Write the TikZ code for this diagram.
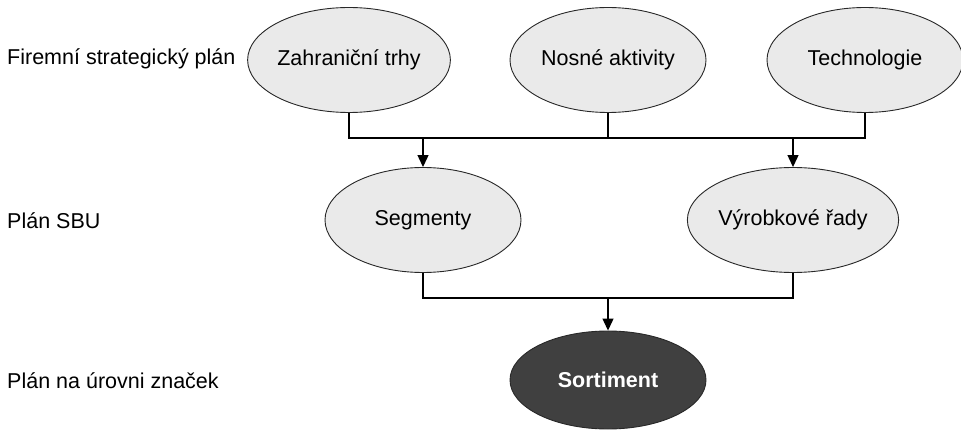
\documentclass[tikz,border=0pt]{standalone}
\usepackage{fontspec}
\setmainfont{Liberation Sans}
\usetikzlibrary{shapes.geometric,arrows.meta}
\definecolor{ellfill}{RGB}{234,234,234}
\definecolor{darkfill}{RGB}{64,64,64}
\definecolor{edge}{RGB}{40,40,40}
\begin{document}
\begin{tikzpicture}[x=1pt,y=-1pt,
  ell/.style={ellipse,draw=edge,line width=0.9pt,fill=ellfill,minimum width=196pt,minimum height=105pt,inner sep=0pt,font=\fontsize{21.5}{26}\selectfont},
  darkell/.style={ell,fill=darkfill,text=white,font=\fontsize{21.5}{26}\selectfont\bfseries,minimum height=98pt},
  lbl/.style={anchor=west,inner sep=0pt,font=\fontsize{21.5}{26}\selectfont},
  conn/.style={draw=black,line width=1.2pt},
  arr/.style={conn,-{Triangle[width=11pt,length=12pt]}}]
\useasboundingbox (0,0) rectangle (961,430);
\fill[white] (0,0) rectangle (961,430);
% level labels
\node[lbl] (L1) at (7,59) {Firemní strategický plán};
\node[lbl] (L2) at (7,221) {Plán SBU};
\node[lbl] (L3) at (7,381) {Plán na úrovni značek};
% top row
\node[ell] (Z) at (349,60) {Zahraniční trhy};
\node[ell] (N) at (608,60) {Nosné aktivity};
\node[ell] (T) at (865,60) {Technologie};
% middle row
\node[ell] (S) at (423,220) {Segmenty};
\node[ell] (V) at (793,220) {Výrobkové řady};
% bottom
\node[darkell] (O) at (608,380) {Sortiment};
% junctions
\coordinate (j1) at (0,138);
\coordinate (j2) at (0,298);
% top connectors
\draw[conn] (Z.south) -- (Z.south |- j1) -- (T.south |- j1) -- (T.south);
\draw[conn] (N.south) -- (N.south |- j1);
\draw[arr] (S.north |- j1) -- (S.north);
\draw[arr] (V.north |- j1) -- (V.north);
% bottom connectors
\draw[conn] (S.south) -- (S.south |- j2) -- (V.south |- j2) -- (V.south);
\draw[arr] (O.north |- j2) -- (O.north);
\end{tikzpicture}
\end{document}
